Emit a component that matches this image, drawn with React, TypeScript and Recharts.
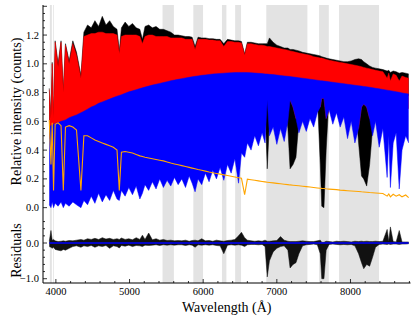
import React from 'react';
import { ComposedChart, Area, Line, XAxis, YAxis } from 'recharts';

// wavelength grid (Angstrom) shared by every spectrum
const wave = [
  3910, 3933, 3950, 3968, 3990, 4030, 4070, 4101, 4130, 4180,
  4230, 4280, 4340, 4380, 4430, 4480, 4530, 4580, 4630, 4680,
  4730, 4780, 4830, 4861, 4890, 4940, 4990, 5040, 5090, 5140,
  5175, 5210, 5260, 5310, 5360, 5410, 5460, 5510, 5560, 5610,
  5660, 5710, 5760, 5810, 5850, 5890, 5930, 5980, 6030, 6080,
  6130, 6180, 6230, 6280, 6330, 6380, 6430, 6480, 6520, 6563,
  6600, 6650, 6700, 6750, 6800, 6840, 6870, 6900, 6950, 7000,
  7050, 7100, 7150, 7180, 7220, 7260, 7300, 7350, 7400, 7450,
  7500, 7550, 7590, 7610, 7640, 7670, 7710, 7760, 7810, 7860,
  7910, 7960, 8010, 8060, 8110, 8150, 8180, 8220, 8260, 8300,
  8340, 8390, 8440, 8498, 8520, 8542, 8580, 8620, 8662, 8700,
  8750, 8790,
];

// observed spectrum (black): upper / lower envelope
const obsHi = [
  0.83, 0.63, 1.01, 0.63, 1.16, 1.0, 1.16, 0.82, 1.14, 1.02,
  1.16, 1.08, 0.92, 1.22, 1.27, 1.25, 1.3, 1.26, 1.33, 1.27,
  1.3, 1.26, 1.24, 1.09, 1.25, 1.29, 1.26, 1.28, 1.25, 1.24,
  1.17, 1.26, 1.27, 1.25, 1.26, 1.24, 1.24, 1.23, 1.22, 1.2,
  1.2, 1.195, 1.19, 1.19, 1.185, 1.12, 1.185, 1.18, 1.18, 1.175,
  1.175, 1.17, 1.17, 1.14, 1.17, 1.165, 1.16, 1.16, 1.155, 1.07,
  1.15, 1.15, 1.145, 1.14, 1.14, 1.14, 1.14, 1.18, 1.15, 1.13,
  1.12, 1.11, 1.11, 1.1, 1.1, 1.095, 1.09, 1.08, 1.075, 1.07,
  1.065, 1.06, 1.055, 1.05, 1.045, 1.04, 1.035, 1.03, 1.025, 1.02,
  1.015, 1.015, 1.02, 1.03, 1.035, 1.03, 1.015, 1.0, 0.985, 0.975,
  0.97, 0.965, 0.96, 0.95, 0.955, 0.94, 0.95, 0.945, 0.935, 0.94,
  0.935, 0.93,
];
const obsLo = [
  0.5, 0.5, 0.5, 0.5, 0.5, 0.5, 0.5, 0.5, 0.5, 0.5,
  0.5, 0.5, 0.5, 0.5, 0.5, 0.5, 0.5, 0.5, 0.5, 0.5,
  0.5, 0.5, 0.5, 0.5, 0.5, 0.5, 0.5, 0.5, 0.5, 0.5,
  0.5, 0.5, 0.5, 0.5, 0.5, 0.5, 0.5, 0.5, 0.5, 0.5,
  0.5, 0.5, 0.5, 0.5, 0.5, 0.5, 0.5, 0.5, 0.5, 0.5,
  0.5, 0.5, 0.5, 0.5, 0.5, 0.5, 0.5, 0.5, 0.5, 0.5,
  0.6, 0.7, 0.78, 0.78, 0.78, 0.7, 0.27, 0.6, 0.78, 0.78,
  0.78, 0.78, 0.55, 0.27, 0.3, 0.35, 0.6, 0.78, 0.78, 0.78,
  0.78, 0.78, 0.3, 0.01, 0.0, 0.4, 0.78, 0.78, 0.78, 0.78,
  0.78, 0.78, 0.78, 0.78, 0.45, 0.22, 0.2, 0.15, 0.3, 0.55,
  0.78, 0.78, 0.78, 0.78, 0.78, 0.78, 0.78, 0.78, 0.78, 0.78,
  0.78, 0.78,
];

// model (red)
const modelHi = [
  0.82, 0.62, 1.0, 0.62, 1.15, 0.98, 1.15, 0.8, 1.13, 1.0,
  1.14, 1.06, 0.9, 1.19, 1.2, 1.21, 1.21, 1.22, 1.22, 1.21,
  1.21, 1.21, 1.2, 1.07, 1.19, 1.2, 1.2, 1.2, 1.2, 1.19,
  1.14, 1.19, 1.2, 1.2, 1.19, 1.19, 1.19, 1.19, 1.18, 1.18,
  1.18, 1.18, 1.17, 1.17, 1.17, 1.1, 1.17, 1.17, 1.17, 1.165,
  1.165, 1.16, 1.16, 1.12, 1.155, 1.155, 1.15, 1.15, 1.145, 1.06,
  1.14, 1.14, 1.135, 1.13, 1.13, 1.125, 1.12, 1.12, 1.115, 1.11,
  1.105, 1.1, 1.095, 1.09, 1.085, 1.08, 1.075, 1.07, 1.065, 1.06,
  1.05, 1.045, 1.04, 1.04, 1.035, 1.03, 1.025, 1.02, 1.015, 1.01,
  1.005, 1.0, 0.995, 0.99, 0.985, 0.98, 0.975, 0.97, 0.965, 0.96,
  0.955, 0.95, 0.945, 0.9, 0.935, 0.88, 0.93, 0.92, 0.88, 0.915,
  0.905, 0.9,
];
const modelLo = [
  0.48, 0.48, 0.49, 0.49, 0.5, 0.5, 0.51, 0.51, 0.52, 0.53,
  0.54, 0.55, 0.56, 0.57, 0.58, 0.6, 0.61, 0.62, 0.63, 0.64,
  0.65, 0.66, 0.67, 0.68, 0.68, 0.69, 0.7, 0.71, 0.72, 0.72,
  0.73, 0.73, 0.74, 0.75, 0.75, 0.76, 0.76, 0.77, 0.77, 0.78,
  0.78, 0.79, 0.79, 0.8, 0.8, 0.8, 0.8, 0.81, 0.81, 0.81,
  0.81, 0.82, 0.82, 0.82, 0.82, 0.82, 0.82, 0.82, 0.82, 0.82,
  0.82, 0.82, 0.82, 0.82, 0.82, 0.82, 0.75, 0.81, 0.81, 0.81,
  0.8, 0.8, 0.8, 0.75, 0.7, 0.62, 0.79, 0.79, 0.78, 0.78,
  0.77, 0.77, 0.7, 0.76, 0.76, 0.62, 0.68, 0.76, 0.76, 0.75,
  0.75, 0.75, 0.74, 0.74, 0.55, 0.7, 0.72, 0.7, 0.62, 0.72,
  0.72, 0.72, 0.71, 0.71, 0.71, 0.7, 0.7, 0.7, 0.7, 0.69,
  0.69, 0.69,
];

// second component (blue)
const compHi = [
  0.56, 0.57, 0.575, 0.58, 0.585, 0.59, 0.6, 0.605, 0.61, 0.625,
  0.635, 0.645, 0.66, 0.67, 0.685, 0.7, 0.71, 0.725, 0.735, 0.745,
  0.755, 0.765, 0.775, 0.78, 0.785, 0.795, 0.805, 0.812, 0.82, 0.828,
  0.833, 0.838, 0.845, 0.852, 0.858, 0.864, 0.87, 0.876, 0.882, 0.887,
  0.892, 0.897, 0.902, 0.906, 0.91, 0.913, 0.916, 0.92, 0.923, 0.926,
  0.929, 0.931, 0.933, 0.935, 0.937, 0.938, 0.939, 0.94, 0.94, 0.94,
  0.939, 0.938, 0.936, 0.934, 0.932, 0.93, 0.929, 0.927, 0.925, 0.922,
  0.919, 0.916, 0.913, 0.911, 0.909, 0.906, 0.903, 0.9, 0.897, 0.893,
  0.89, 0.886, 0.883, 0.882, 0.88, 0.878, 0.875, 0.872, 0.868, 0.865,
  0.862, 0.858, 0.855, 0.851, 0.848, 0.845, 0.843, 0.84, 0.837, 0.834,
  0.83, 0.826, 0.822, 0.817, 0.815, 0.813, 0.81, 0.806, 0.802, 0.798,
  0.793, 0.79,
];
const compLo = [
  0.02, 0.0, 0.04, 0.0, 0.03, 0.01, 0.04, 0.0, 0.03, 0.01,
  0.04, 0.02, 0.0, 0.05, 0.02, 0.08, 0.03, 0.1, 0.04, 0.09,
  0.05, 0.12, 0.06, 0.05, 0.12, 0.08, 0.14, 0.09, 0.15, 0.06,
  0.1, 0.16, 0.12, 0.18, 0.13, 0.2, 0.14, 0.19, 0.15, 0.21,
  0.16, 0.2, 0.14, 0.22, 0.17, 0.11, 0.2, 0.16, 0.24, 0.18,
  0.26, 0.2, 0.28, 0.19, 0.3, 0.24, 0.34, 0.17, 0.38, 0.35,
  0.45, 0.4, 0.5, 0.43, 0.52, 0.45, 0.75, 0.5, 0.56, 0.44,
  0.55, 0.46, 0.6, 0.75, 0.7, 0.62, 0.52, 0.6, 0.53, 0.62,
  0.56, 0.66, 0.7, 0.76, 0.76, 0.62, 0.68, 0.58, 0.66, 0.56,
  0.63, 0.48, 0.6, 0.45, 0.55, 0.7, 0.72, 0.7, 0.62, 0.5,
  0.6, 0.42, 0.55, 0.21, 0.5, 0.14, 0.45, 0.52, 0.13, 0.4,
  0.5, 0.45,
];

// hot template (orange)
const template = [
  0.61, 0.3, 0.59, 0.12, 0.58, 0.59, 0.57, 0.12, 0.56, 0.57,
  0.56, 0.54, 0.12, 0.5, 0.5, 0.485, 0.47, 0.46, 0.45, 0.44,
  0.43, 0.42, 0.4, 0.12, 0.385, 0.39, 0.385, 0.38, 0.37, 0.36,
  0.355, 0.35, 0.345, 0.34, 0.335, 0.33, 0.325, 0.318, 0.31, 0.304,
  0.298, 0.292, 0.286, 0.28, 0.275, 0.27, 0.265, 0.26, 0.254, 0.248,
  0.243, 0.238, 0.233, 0.228, 0.223, 0.218, 0.213, 0.208, 0.204, 0.09,
  0.198, 0.194, 0.19, 0.186, 0.182, 0.179, 0.177, 0.175, 0.172, 0.169,
  0.166, 0.163, 0.16, 0.158, 0.156, 0.154, 0.152, 0.149, 0.146, 0.143,
  0.14, 0.137, 0.135, 0.134, 0.133, 0.131, 0.129, 0.127, 0.125, 0.122,
  0.12, 0.118, 0.116, 0.114, 0.112, 0.11, 0.109, 0.107, 0.105, 0.104,
  0.102, 0.1, 0.098, 0.08, 0.095, 0.075, 0.093, 0.08, 0.09, 0.075,
  0.088, 0.07,
];

// residuals (black) and the zero line (blue)
const residHi = [
  0.05, 0.35, 0.08, 0.1, 0.06, 0.04, 0.05, 0.06, 0.05, 0.07,
  0.06, 0.08, 0.1, 0.08, 0.12, 0.1, 0.13, 0.1, 0.15, 0.11,
  0.13, 0.1, 0.12, 0.1, 0.14, 0.1, 0.12, 0.09, 0.15, 0.1,
  0.22, 0.1, 0.28, 0.09, 0.12, 0.08, 0.1, 0.07, 0.08, 0.06,
  0.07, 0.06, 0.08, 0.05, 0.07, 0.08, 0.06, 0.12, 0.06, 0.07,
  0.05, 0.08, 0.06, 0.05, 0.07, 0.08, 0.1, 0.2, 0.3, 0.15,
  0.08, 0.06, 0.05, 0.06, 0.05, 0.08, 0.05, 0.05, 0.06, 0.07,
  0.18, 0.08, 0.05, 0.04, 0.04, 0.04, 0.05, 0.06, 0.05, 0.04,
  0.04, 0.06, 0.08, 0.02, 0.02, 0.05, 0.04, 0.03, 0.05, 0.04,
  0.05, 0.04, 0.03, 0.05, 0.04, 0.05, 0.04, 0.05, 0.04, 0.04,
  0.05, 0.04, 0.05, 0.38, 0.05, 0.45, 0.04, 0.03, 0.35, 0.03,
  0.03, 0.03,
];
const residLo = [
  -0.1, -0.12, -0.15, -0.12, -0.18, -0.2, -0.22, -0.18, -0.2, -0.15,
  -0.1, -0.08, -0.12, -0.08, -0.1, -0.07, -0.12, -0.08, -0.1, -0.07,
  -0.15, -0.08, -0.1, -0.14, -0.07, -0.09, -0.06, -0.1, -0.07, -0.08,
  -0.1, -0.06, -0.07, -0.06, -0.05, -0.07, -0.05, -0.06, -0.05, -0.06,
  -0.05, -0.05, -0.07, -0.05, -0.06, -0.12, -0.05, -0.06, -0.05, -0.06,
  -0.05, -0.07, -0.08, -0.3, -0.06, -0.05, -0.06, -0.05, -0.06, -0.1,
  -0.05, -0.04, -0.04, -0.05, -0.04, -0.1, -0.95, -0.5, -0.25, -0.15,
  -0.1, -0.08, -0.2, -0.7, -0.6, -0.55, -0.3, -0.08, -0.05, -0.04,
  -0.03, -0.05, -0.3, -1.0, -1.0, -0.2, -0.04, -0.03, -0.04, -0.05,
  -0.04, -0.05, -0.04, -0.08, -0.3, -0.55, -0.72, -0.6, -0.65, -0.4,
  -0.12, -0.04, -0.03, -0.04, -0.03, -0.04, -0.03, -0.03, -0.04, -0.03,
  -0.03, -0.02,
];
const zeroWave = [3910, 8790];
const zeroResid = [0, 0];

// masked wavelength ranges (grey)
const maskStart = [3918, 3962, 5448, 5866, 6255, 6434, 6857, 7574, 7845];
const maskEnd = [3945, 3972, 5602, 5998, 6315, 6514, 7415, 7706, 8388];

// ticks
const xTicks = [4000, 4200, 4400, 4600, 4800, 5000, 5200, 5400, 5600, 5800, 6000, 6200, 6400, 6600, 6800, 7000, 7200, 7400, 7600, 7800, 8000, 8200, 8400, 8600, 8800];
const xMajor = [4000, 5000, 6000, 7000, 8000];
const yTicksTop = [0, 0.05, 0.1, 0.15, 0.2, 0.25, 0.3, 0.35, 0.4, 0.45, 0.5, 0.55, 0.6, 0.65, 0.7, 0.75, 0.8, 0.85, 0.9, 0.95, 1.0, 1.05, 1.1, 1.15, 1.2, 1.25, 1.3, 1.35, 1.4];
const yMajorTop = [0, 0.2, 0.4, 0.6, 0.8, 1.0, 1.2, 1.4];
const yLabelTop = [0, 0.2, 0.4, 0.6, 0.8, 1.0, 1.2];
const yTicksRes = [-1.0, -0.8, -0.6, -0.4, -0.2, 0, 0.2, 0.4, 0.6];
const yMajorRes = [-1.0, 0];

const FONT = 'Liberation Serif';
const X_DOMAIN = [3825, 8815];
const TOP_DOMAIN = [-0.072, 1.409];
const RES_DOMAIN = [-1.12, 0.7];

const topRows = wave.map((w, i) => ({
  w,
  observed: [obsLo[i], obsHi[i]],
  model: [modelLo[i], modelHi[i]],
  comp: [compLo[i], compHi[i]],
  template: template[i],
}));
const residRows = wave.map((w, i) => ({ w, resid: [residLo[i], residHi[i]] }));
const zeroRows = zeroWave.map((w, i) => ({ w, zero: zeroResid[i] }));
// each mask band spans the full panel height
const bandRows = (i: number, dom: number[]) => [
  { w: maskStart[i], band: dom },
  { w: maskEnd[i], band: dom },
];

const inList = (v: number, list: number[]) => list.some((m) => Math.abs(m - v) < 1e-6);
const fmt = (v: number) => v.toFixed(1).replace('-', '\u2212');

function makeTick(side: string, majors: number[], labels: number[] | null, format: (v: number) => string) {
  return (props: any) => {
    const { x, y, payload } = props;
    const v = payload.value;
    const big = inList(v, majors);
    const len = big ? 4 : 2;
    let x2 = x;
    let y2 = y;
    if (side === 'bottom') y2 = y - len;
    if (side === 'top') y2 = y + len;
    if (side === 'left') x2 = x + len;
    if (side === 'right') x2 = x - len;
    const showLabel = labels && inList(v, labels);
    return (
      <g>
        <line x1={x} y1={y} x2={x2} y2={y2} stroke="#000" strokeWidth={0.8} />
        {showLabel && side === 'bottom' && (
          <text x={x} y={y + 11.5} textAnchor="middle" fontFamily={FONT} fontSize={10.5} fill="#000">
            {format(v)}
          </text>
        )}
        {showLabel && side === 'left' && (
          <text x={x - 4} y={y + 3.6} textAnchor="end" fontFamily={FONT} fontSize={10.5} fill="#000">
            {format(v)}
          </text>
        )}
      </g>
    );
  };
}

const yTitle = (text: string) => (props: any) => {
  const vb = props.viewBox;
  const cx = 16.5;
  const cy = vb.y + vb.height / 2;
  return (
    <text x={cx} y={cy} transform={`rotate(-90 ${cx} ${cy})`} textAnchor="middle" dominantBaseline="central" fontFamily={FONT} fontSize={14} fill="#000">
      {text}
    </text>
  );
};

const xTitle = (props: any) => {
  const vb = props.viewBox;
  return (
    <text x={vb.x + vb.width / 2} y={vb.y + 29} textAnchor="middle" fontFamily={FONT} fontSize={14} fill="#000">
      Wavelength (Å)
    </text>
  );
};

const axisLine = { stroke: '#000', strokeWidth: 1 };

function Masks(dom: number[]) {
  return maskStart.map((s, i) => (
    <Area key={`m${i}`} xAxisId="b" yAxisId="l" data={bandRows(i, dom)} type="linear" dataKey="band" zIndex={50}
      fill="#e3e3e3" fillOpacity={1} stroke="none" isAnimationActive={false} />
  ));
}

export default function App() {
  return (
    <div style={{ position: 'relative', width: 419, height: 322, background: '#fff' }}>
      <style>{'body{margin:0}'}</style>
      <div style={{ position: 'absolute', left: 0, top: 0 }}>
        <ComposedChart width={419} height={218} data={topRows} margin={{ top: 5, right: 8.5, bottom: 0, left: 0 }}>
          <XAxis xAxisId="b" dataKey="w" type="number" domain={X_DOMAIN} allowDataOverflow ticks={xTicks} interval={0}
            orientation="bottom" height={0} tickSize={0} tickMargin={0} tickLine={false} axisLine={axisLine}
            tick={makeTick('bottom', xMajor, null, String)} />
          <XAxis xAxisId="t" dataKey="w" type="number" domain={X_DOMAIN} allowDataOverflow ticks={xTicks} interval={0}
            orientation="top" height={0} tickSize={0} tickMargin={0} tickLine={false} axisLine={axisLine}
            tick={makeTick('top', xMajor, null, String)} />
          <YAxis yAxisId="l" type="number" domain={TOP_DOMAIN} allowDataOverflow ticks={yTicksTop} interval={0}
            width={43} tickSize={0} tickMargin={0} tickLine={false} axisLine={axisLine}
            tick={makeTick('left', yMajorTop, yLabelTop, fmt)} label={yTitle('Relative intensity (counts)')} />
          <YAxis yAxisId="r" orientation="right" type="number" domain={TOP_DOMAIN} allowDataOverflow ticks={yTicksTop} interval={0}
            width={0} tickSize={0} tickMargin={0} tickLine={false} axisLine={axisLine}
            tick={makeTick('right', yMajorTop, null, fmt)} />
          {Masks(TOP_DOMAIN)}
          <Area xAxisId="b" yAxisId="l" type="linear" dataKey="observed" fill="#000" fillOpacity={1} stroke="#000" strokeWidth={0.5} isAnimationActive={false} />
          <Area xAxisId="b" yAxisId="l" type="linear" dataKey="model" fill="#ff0000" fillOpacity={1} stroke="#ff0000" strokeWidth={0.5} isAnimationActive={false} />
          <Area xAxisId="b" yAxisId="l" type="linear" dataKey="comp" fill="#0000ff" fillOpacity={1} stroke="#0000ff" strokeWidth={0.5} isAnimationActive={false} />
          <Line xAxisId="b" yAxisId="l" type="linear" dataKey="template" stroke="#ffa500" strokeWidth={1.1} dot={false} isAnimationActive={false} />
        </ComposedChart>
      </div>
      <div style={{ position: 'absolute', left: 0, top: 218 }}>
        <ComposedChart width={419} height={104} data={residRows} margin={{ top: 0, right: 8.5, bottom: 0, left: 0 }}>
          <XAxis xAxisId="b" dataKey="w" type="number" domain={X_DOMAIN} allowDataOverflow ticks={xTicks} interval={0}
            orientation="bottom" height={39} tickSize={0} tickMargin={0} tickLine={false} axisLine={axisLine}
            tick={makeTick('bottom', xMajor, xMajor, String)} label={xTitle} />
          <XAxis xAxisId="t" dataKey="w" type="number" domain={X_DOMAIN} allowDataOverflow ticks={xTicks} interval={0}
            orientation="top" height={0} tickSize={0} tickMargin={0} tickLine={false} axisLine={axisLine}
            tick={makeTick('top', xMajor, null, String)} />
          <YAxis yAxisId="l" type="number" domain={RES_DOMAIN} allowDataOverflow ticks={yTicksRes} interval={0}
            width={43} tickSize={0} tickMargin={0} tickLine={false} axisLine={axisLine}
            tick={makeTick('left', yMajorRes, yMajorRes, fmt)} label={yTitle('Residuals')} />
          <YAxis yAxisId="r" orientation="right" type="number" domain={RES_DOMAIN} allowDataOverflow ticks={yTicksRes} interval={0}
            width={0} tickSize={0} tickMargin={0} tickLine={false} axisLine={axisLine}
            tick={makeTick('right', yMajorRes, null, fmt)} />
          {Masks(RES_DOMAIN)}
          <Area xAxisId="b" yAxisId="l" type="linear" dataKey="resid" fill="#111" fillOpacity={1} stroke="#111" strokeWidth={0.5} isAnimationActive={false} />
          <Line xAxisId="b" yAxisId="l" data={zeroRows} type="linear" dataKey="zero" stroke="#0000ff" strokeWidth={1.5} dot={false} isAnimationActive={false} />
        </ComposedChart>
      </div>
    </div>
  );
}
